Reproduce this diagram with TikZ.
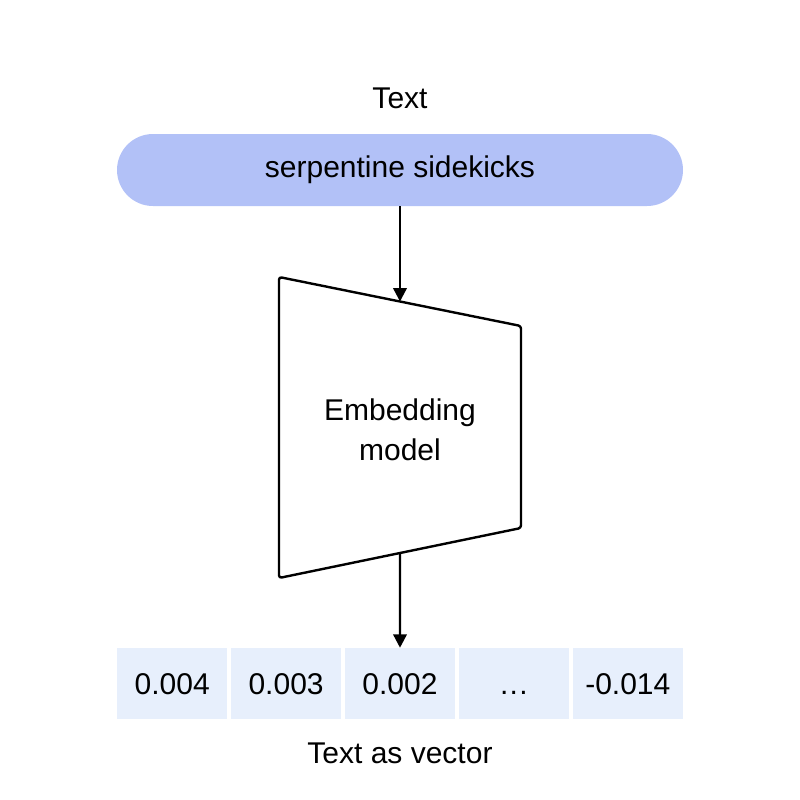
\documentclass[tikz,border=0pt]{standalone}
\usepackage{fontspec}
\setmainfont{Liberation Sans}
\usetikzlibrary{arrows.meta,positioning}
\definecolor{pillblue}{RGB}{178,193,247}
\definecolor{cellblue}{RGB}{231,239,252}
\tikzset{
    pill/.style={rounded corners=27pt,fill=pillblue,minimum width=424.5pt,minimum height=54pt},
    cell/.style={fill=cellblue,minimum width=82.8pt,minimum height=53.25pt,inner sep=0pt,text height=16pt,text depth=0pt},
    caption/.style={inner sep=0pt},
    flow/.style={-{Triangle[length=10pt,width=10pt]},line width=1.8pt},
    outline/.style={line width=1.8pt,rounded corners=2pt,line join=round}
}

\begin{document}
\begin{tikzpicture}[x=0.75pt,y=-0.75pt,font=\fontsize{22.5}{30}\selectfont]

                \useasboundingbox (0,0) rectangle (800,800);

                \node[pill]    (input)       at (400,170) {serpentine sidekicks};
                \node[caption] (input title) at (400,98)  {Text};

                \draw[outline] (279,277) -- (521,326) -- (521,528) -- (279,578) -- cycle;
                \coordinate (model in)  at (400,301.5);
                \coordinate (model out) at (400,553);
                \node[align=center] (model) at (400,430) {Embedding\\model};

                \foreach \val [count=\i] in {0.004,0.003,0.002,{.\kern1pt.\kern1pt.},-0.014}
                    \node[cell] (cell \i) at ({172.2+113.9*(\i-1)},683.5) {\val};
                \node[caption] (output title) at (400,753) {Text as vector};

                \draw[flow] (input.south) -- (model in);
                \draw[flow] (model out) -- (cell 3.north);

            \end{tikzpicture}
\end{document}
